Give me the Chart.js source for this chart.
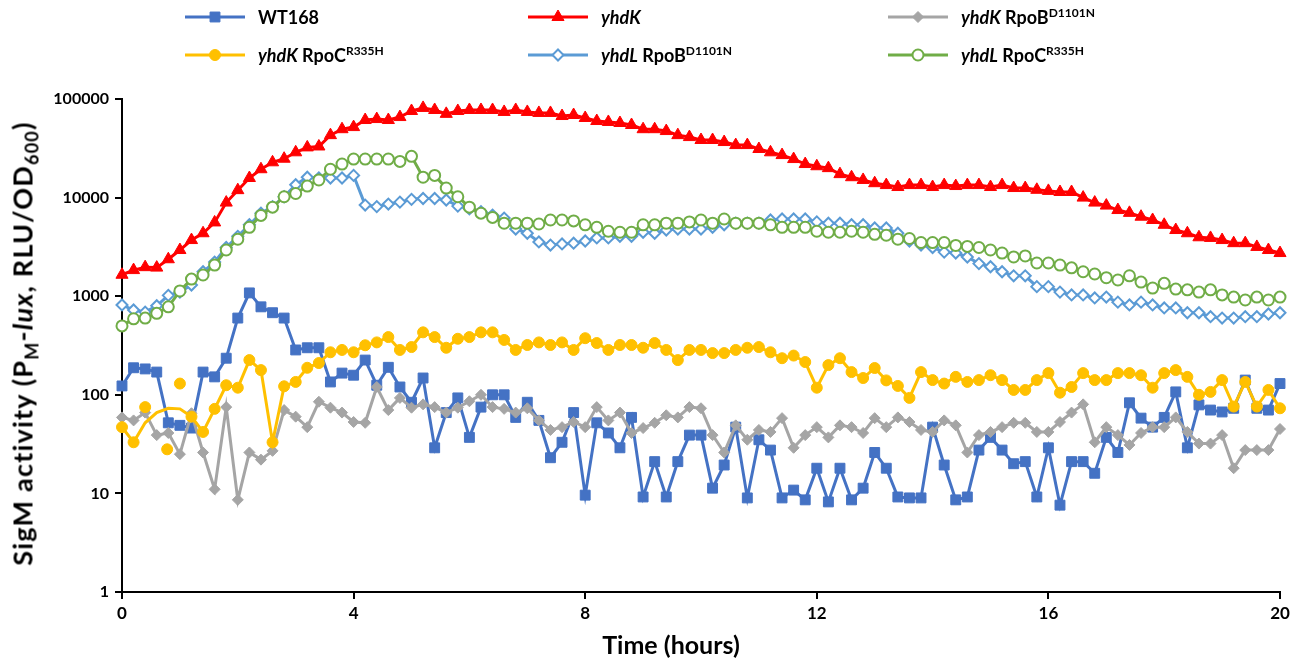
<!DOCTYPE html>
<html>
<head>
<meta charset="utf-8">
<script src="https://cdn.jsdelivr.net/npm/chart.js"></script>
<style>
  body { margin: 0; background: #fff; font-family: Lato, sans-serif; }
  #wrap { position: relative; width: 1307px; height: 663px; }
  .leg { position: absolute; display: flex; align-items: center; font-weight: bold; font-size: 18px; white-space: nowrap; color: #000; }
  .leg canvas { margin-right: 11px; }
  .leg sup { font-size: 12px; vertical-align: 7px; line-height: 0; }
  #ytitle { position: absolute; width: 700px; left: -328px; top: 327px; text-align: center;
            transform: rotate(-90deg); font-weight: bold; font-size: 27px; letter-spacing: 1.2px; white-space: nowrap; }
  #ytitle sub { font-size: 18px; vertical-align: -6px; line-height: 0; }
  #xtitle { position: absolute; width: 400px; left: 471px; top: 629px; text-align: center;
            font-weight: bold; font-size: 25px; white-space: nowrap; }
</style>
</head>
<body>
<div id="wrap">
  <canvas id="chart"></canvas>
  <div id="ytitle">SigM activity (P<sub>M</sub>-<i>lux</i>, RLU/OD<sub>600</sub>)</div>
  <div id="xtitle">Time (hours)</div>
</div>
<script>
// time grid, hours
const hours = Array.from({ length: 101 }, (_, i) => Math.round(i * 2) / 10);

// SigM activity
const wt168 = [123,188,183,170,52,49,46,170,152,235, 600,1080,780,680,600,285,300,300,135,166,
  158,225,125,190,120,84,148,29,66,93, 37,75,100,100,59,84,55,23,33,66,
  9.6,52,41,29,59,9.2,21,9.2,21,39, 39,11.3,19.4,47,9,35,27.5,9,10.8,8.6,
  18,8.2,18,8.6,11.3,26,18,9.2,9,9, 47,19.4,8.6,9.2,27.5,37,27.5,20,21,9.2,
  29,7.6,21,21,16,37,26,83,58,47, 59,107,29,79,70,67,73,141,73,70, 130];

const yhdK = [1650,1840,1970,1950,2370,2940,3710,4350,5600,8900, 11900,15800,19400,22800,24800,28800,32300,33000,43000,49400,
  51900,61200,62600,61200,65600,75600,81200,77400,70700,75600, 77400,77400,77400,73900,77400,73900,72200,72200,67200,68800,
  64200,59800,58500,57100,54500,49400,49400,47300,43000,41100, 38400,38400,36600,34100,34100,31100,28800,27000,24600,21900,
  20800,19900,17300,16100,15100,14000,13400,12800,13400,13400, 12800,13400,13100,13400,13400,12800,13400,12500,12500,12000,
  11700,11400,11400,10000,8900,8300,7480,7000,6400,5930, 5300,4690,4350,3960,3900,3710,3450,3450,3160,2940, 2740];

const yhdKRpoB = [59,55,66,39,41,25,65,26,11,75, 8.6,26,22,27,70,60,47,85,74,66,
  53,52,120,70,93,74,80,75,66,74, 86,100,75,72,66,73,55,44,47,53,
  47,75,55,66,41,46,52,62,59,75, 73,39,26,49,35,44,42,58,29,39,
  47,37,49,47,41,58,47,59,53,44, 42,55,49,26,39,42,47,52,52,42,
  42,53,66,80,33,47,39,31,41,47, 47,59,42,32,32,39,18,27.5,27.5,27.5, 45];

const yhdKRpoC = [47,33,52,66,73,72,60,42,72,125, 118,225,178,33,122,135,188,210,270,285,
  270,318,340,385,285,305,430,385,300,370, 385,430,430,360,285,320,340,320,340,285,
  375,335,285,320,320,300,335,285,225,285, 285,265,265,285,300,305,270,235,250,215,
  118,200,235,170,148,187,140,123,93,170, 141,130,152,135,141,158,141,112,112,141,
  166,105,120,166,141,141,166,166,158,118, 166,178,152,100,107,141,76,135,76,112, 73];
// stray yellow markers off the line near the start
const yhdKRpoCStray = [{ x: 0.4, y: 75 }, { x: 0.78, y: 28 }, { x: 1.0, y: 130 }];
const yhdKRpoCCurve = [2, 3, 4, 5]; // points on the smoothed bit, drawn without marker

const yhdLRpoB = [815,724,690,800,1020,1100,1300,1770,2220,3120, 4050,5300,6950,8100,10200,13500,16100,15800,15800,15800,
  16800,8400,8100,8600,9000,9600,9800,9800,9450,8200, 7700,7200,6650,6200,4800,4350,3550,3300,3390,3450,
  3630,3900,3900,4050,4050,4450,4350,4690,4800,4800, 4800,5000,5300,5500,5500,5500,5930,6070,6070,6070,
  5670,5500,5500,5300,5300,4920,4920,4350,3630,3300, 3120,2800,2740,2500,2140,1990,1770,1610,1610,1250,
  1250,1100,1030,1030,960,980,870,815,870,815, 760,760,680,680,620,600,600,620,620,660, 680];

const yhdLRpoC = [500,590,600,670,780,1130,1490,1640,2070,2940, 3780,5000,6600,8000,10200,11000,13100,15100,19400,21900,
  24600,24600,24600,24600,23300,26200,16100,16800,12500,10200, 8000,6950,6300,5500,5500,5500,5400,5930,5930,5800,
  5300,5000,4560,4450,4450,5300,5300,5500,5500,5670, 5930,5500,6070,5500,5500,5500,5300,5000,5000,5000,
  4560,4450,4450,4560,4450,4240,4150,3780,3850,3500, 3500,3500,3270,3200,3120,2940,2740,2500,2560,2170,
  2170,2070,1940,1770,1680,1540,1460,1610,1390,1210, 1350,1180,1160,1100,1160,1030,980,915,980,915, 980];

const yTicks = [1, 10, 100, 1000, 10000, 100000];

const FONT = 'Lato, sans-serif';

const series = [
  { label: 'WT168', html: 'WT168', data: wt168, color: '#4472C4', style: 'rect', r: 7, open: false },
  { label: 'yhdK', html: '<i>yhdK</i>', data: yhdK, color: '#FF0000', style: 'triangle', r: 7, open: false },
  { label: 'yhdK RpoB', html: '<i>yhdK</i> RpoB<sup>D1101N</sup>', data: yhdKRpoB, color: '#A5A5A5', style: 'rectRot', r: 5.5, open: false },
  { label: 'yhdK RpoC', html: '<i>yhdK</i> RpoC<sup>R335H</sup>', data: yhdKRpoC, color: '#FFC000', style: 'circle', r: 5.5, open: false },
  { label: 'yhdL RpoB', html: '<i>yhdL</i> RpoB<sup>D1101N</sup>', data: yhdLRpoB, color: '#5B9BD5', style: 'rectRot', r: 5.5, open: true },
  { label: 'yhdL RpoC', html: '<i>yhdL</i> RpoC<sup>R335H</sup>', data: yhdLRpoC, color: '#70AD47', style: 'circle', r: 5.5, open: true }
];

const datasets = series.map((s, k) => ({
  label: s.label,
  data: s.data.map((v, i) => ({ x: hours[i], y: v })),
  borderColor: s.color,
  borderWidth: 3,
  pointStyle: s.style,
  pointRadius: s.label === 'yhdK RpoC' ? s.data.map((v, i) => yhdKRpoCCurve.includes(i) ? 0 : s.r) : s.r,
  pointBackgroundColor: s.open ? '#fff' : s.color,
  pointBorderColor: s.color,
  pointBorderWidth: s.open ? 2 : 1,
  tension: 0,
  clip: false,
  order: 10 - k
}));

datasets.push({
  label: 'stray',
  data: yhdKRpoCStray,
  showLine: false,
  pointStyle: 'circle',
  pointRadius: 5.5,
  pointBackgroundColor: '#FFC000',
  pointBorderColor: '#FFC000',
  clip: false,
  order: 6
});

new Chart(document.getElementById('chart'), {
  type: 'line',
  data: { datasets },
  options: {
    responsive: true,
    maintainAspectRatio: false,
    animation: false,
    layout: { padding: { top: 99, right: 27, left: 0, bottom: 0 } },
    plugins: { legend: { display: false }, tooltip: { enabled: false } },
    scales: {
      x: {
        type: 'linear', min: 0, max: 20,
        ticks: { stepSize: 4, color: '#000', padding: 4, font: { family: FONT, size: 17, weight: 'bold' } },
        grid: { drawOnChartArea: false, drawTicks: true, tickLength: 7, color: '#000', lineWidth: 2 },
        border: { display: true, color: '#000', width: 2 },
        afterFit: s => { s.height = 71; }
      },
      y: {
        type: 'logarithmic', min: 1, max: 100000,
        afterBuildTicks: s => { s.ticks = yTicks.map(v => ({ value: v })); },
        ticks: { color: '#000', padding: 6, callback: v => String(v), font: { family: FONT, size: 16, weight: 'bold' } },
        grid: { drawOnChartArea: false, drawTicks: true, tickLength: 7, color: '#000', lineWidth: 2 },
        border: { display: true, color: '#000', width: 2 },
        afterFit: s => { s.width = 122; }
      }
    }
  }
});

// legend, two rows of three
function drawMarker(ctx, s, x, y) {
  const r = s.r;
  ctx.beginPath();
  if (s.style === 'rect') {
    const h = r * Math.SQRT1_2;
    ctx.rect(x - h, y - h, 2 * h, 2 * h);
  } else if (s.style === 'triangle') {
    ctx.moveTo(x, y - r);
    ctx.lineTo(x + r * 0.866, y + r * 0.5);
    ctx.lineTo(x - r * 0.866, y + r * 0.5);
    ctx.closePath();
  } else if (s.style === 'rectRot') {
    ctx.moveTo(x, y - r); ctx.lineTo(x + r, y); ctx.lineTo(x, y + r); ctx.lineTo(x - r, y); ctx.closePath();
  } else {
    ctx.arc(x, y, r, 0, Math.PI * 2);
  }
  ctx.fillStyle = s.open ? '#fff' : s.color;
  ctx.fill();
  ctx.lineWidth = s.open ? 2 : 1;
  ctx.strokeStyle = s.color;
  ctx.stroke();
}

const legCols = [183, 526, 886];
const legRows = [17, 55];
const wrap = document.getElementById('wrap');
series.forEach((s, k) => {
  const item = document.createElement('div');
  item.className = 'leg';
  item.style.left = legCols[k % 3] + 'px';
  item.style.top = (legRows[Math.floor(k / 3)] - 12) + 'px';
  item.style.height = '24px';
  const c = document.createElement('canvas');
  c.width = 64; c.height = 24;
  const ctx = c.getContext('2d');
  ctx.strokeStyle = s.color; ctx.lineWidth = 3;
  ctx.beginPath(); ctx.moveTo(2, 12); ctx.lineTo(62, 12); ctx.stroke();
  drawMarker(ctx, s, 32, 12);
  item.appendChild(c);
  const t = document.createElement('span');
  t.innerHTML = s.html;
  item.appendChild(t);
  wrap.appendChild(item);
});
</script>
</body>
</html>
